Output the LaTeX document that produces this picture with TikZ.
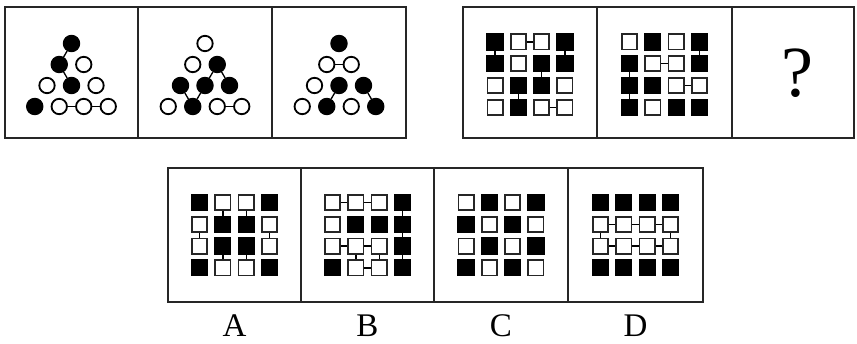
\documentclass[tikz,border=0pt]{standalone}
\usepackage{fontspec}
\setmainfont{Liberation Serif}
\begin{document}
\begin{tikzpicture}[x=1pt,y=-1pt,
  panel/.style={draw=black!85, line width=1.5pt},
  bc/.style={circle, draw=black, fill=black, line width=1.2pt, minimum size=16.2pt, inner sep=0pt},
  wc/.style={circle, draw=black, fill=white, line width=1.8pt, minimum size=15.4pt, inner sep=0pt},
  bsq/.style={rectangle, draw=black, fill=black, line width=1.2pt, minimum size=16pt, inner sep=0pt},
  wsq/.style={rectangle, draw=black!85, fill=white, line width=1.8pt, minimum size=15.2pt, inner sep=0pt},
  conn/.style={draw=black, line width=1.3pt},
  lbl/.style={font=\fontsize{33}{36}\selectfont, inner sep=0pt, anchor=base}]
\fill[white] (0,0) rectangle (857,344);
\useasboundingbox (0,0) rectangle (857,344);
% panels
\draw[panel] (5,7) rectangle (138,138);
\draw[panel] (138,7) rectangle (272,138);
\draw[panel] (272,7) rectangle (406,138);
\draw[panel] (463,7) rectangle (597,138);
\draw[panel] (597,7) rectangle (732,138);
\draw[panel] (732,7) rectangle (854,138);
\draw[panel] (168,168) rectangle (301,302);
\draw[panel] (301,168) rectangle (434,302);
\draw[panel] (434,168) rectangle (568,302);
\draw[panel] (568,168) rectangle (703,302);
% triangles
\foreach \r/\k/\s in {0/0/bc, 1/0/bc, 1/1/wc, 2/0/wc, 2/1/bc, 2/2/wc, 3/0/bc, 3/1/wc, 3/2/wc, 3/3/wc}
  \node[\s] (ta-\r\k) at ({71.5+(\k-\r/2)*24.5},{43.5+21*\r}) {};
\foreach \r/\k/\s in {0/0/wc, 1/0/wc, 1/1/bc, 2/0/bc, 2/1/bc, 2/2/bc, 3/0/wc, 3/1/bc, 3/2/wc, 3/3/wc}
  \node[\s] (tb-\r\k) at ({205+(\k-\r/2)*24.5},{43.5+21*\r}) {};
\foreach \r/\k/\s in {0/0/bc, 1/0/wc, 1/1/wc, 2/0/wc, 2/1/bc, 2/2/bc, 3/0/wc, 3/1/bc, 3/2/wc, 3/3/bc}
  \node[\s] (tc-\r\k) at ({339+(\k-\r/2)*24.5},{43.5+21*\r}) {};
\draw[conn] (ta-00) -- (ta-10);
\draw[conn] (ta-10) -- (ta-21);
\draw[conn] (ta-31) -- (ta-32);
\draw[conn] (ta-32) -- (ta-33);
\draw[conn] (tb-11) -- (tb-21);
\draw[conn] (tb-11) -- (tb-22);
\draw[conn] (tb-20) -- (tb-31);
\draw[conn] (tb-21) -- (tb-31);
\draw[conn] (tb-32) -- (tb-33);
\draw[conn] (tc-10) -- (tc-11);
\draw[conn] (tc-21) -- (tc-31);
\draw[conn] (tc-22) -- (tc-33);
% square grids
\newcommand\sqpanel[4]{%
  \foreach \s [count=\i from 0] in {#4} {
    \pgfmathtruncatemacro\rr{int(\i/4)}
    \pgfmathtruncatemacro\cc{mod(\i,4)}
    \node[\s] (#1-\rr\cc) at ({#2+(\cc-1.5)*23.3},{#3+21.8*\rr}) {};
  }}
\sqpanel{pd}{530}{42}{bsq,wsq,wsq,bsq, bsq,wsq,bsq,bsq, wsq,bsq,bsq,wsq, wsq,bsq,wsq,wsq}
\sqpanel{pe}{664.5}{42}{wsq,bsq,wsq,bsq, bsq,wsq,wsq,bsq, bsq,bsq,wsq,wsq, bsq,wsq,bsq,bsq}
\sqpanel{oa}{234.5}{202.5}{bsq,wsq,wsq,bsq, wsq,bsq,bsq,wsq, wsq,bsq,bsq,wsq, bsq,wsq,wsq,bsq}
\sqpanel{ob}{367.5}{202.5}{wsq,wsq,wsq,bsq, wsq,bsq,bsq,bsq, wsq,wsq,wsq,bsq, bsq,wsq,wsq,bsq}
\sqpanel{oc}{501}{202.5}{wsq,bsq,wsq,bsq, bsq,wsq,bsq,wsq, wsq,bsq,wsq,bsq, bsq,wsq,bsq,wsq}
\sqpanel{od}{635.5}{202.5}{bsq,bsq,bsq,bsq, wsq,wsq,wsq,wsq, wsq,wsq,wsq,wsq, bsq,bsq,bsq,bsq}
% connections
\foreach \a/\b in {00/10, 03/13, 01/02, 12/22, 21/31, 32/33}
  \draw[conn] (pd-\a) -- (pd-\b);
\foreach \a/\b in {03/13, 11/12, 10/20, 20/30, 22/23}
  \draw[conn] (pe-\a) -- (pe-\b);
\foreach \a/\b in {01/11, 02/12, 10/20, 13/23, 21/31, 22/32}
  \draw[conn] (oa-\a) -- (oa-\b);
\foreach \a/\b in {00/01, 01/02, 03/13, 13/23, 20/21, 21/22, 21/31, 22/32, 23/33, 31/32}
  \draw[conn] (ob-\a) -- (ob-\b);
\foreach \a/\b in {10/11, 11/12, 12/13, 20/21, 21/22, 22/23, 10/20, 13/23}
  \draw[conn] (od-\a) -- (od-\b);
% question mark
\node[font=\fontsize{72}{72}\selectfont, inner sep=0pt] (q) at (797,73.5) {?};
% labels
\node[lbl] (la) at (234.5,337) {A};
\node[lbl] (lb) at (367.5,337) {B};
\node[lbl] (lc) at (501,337) {C};
\node[lbl] (ld) at (635.5,337) {D};
\end{tikzpicture}
\end{document}
